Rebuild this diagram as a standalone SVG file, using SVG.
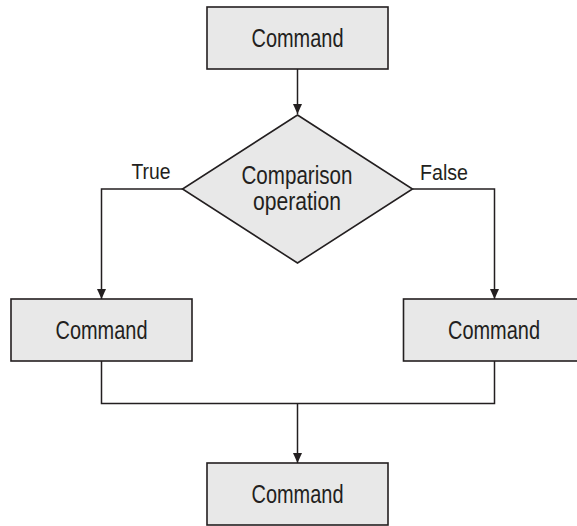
<svg xmlns="http://www.w3.org/2000/svg" width="577" height="526" viewBox="0 0 577 526">
<style>
.box{fill:#e8e8e8;stroke:#231f20;stroke-width:1.6}
.lbl{font-family:"Liberation Sans",Arial,sans-serif;font-size:25px;fill:#231f20;text-anchor:middle}
.side{font-family:"Liberation Sans",Arial,sans-serif;font-size:21.5px;fill:#231f20}
.conn{fill:none;stroke:#231f20;stroke-width:1.5}
</style>
<defs>
<marker id="arr" viewBox="0 0 10 12" refX="10" refY="6" markerWidth="10" markerHeight="12" markerUnits="userSpaceOnUse" orient="auto">
<path d="M0,1.5 L10,6 L0,10.5 z" fill="#231f20"/>
</marker>
</defs>
<rect width="577" height="526" fill="#ffffff"/>
<g id="connectors">
<path class="conn" d="M297.5,69 V114" marker-end="url(#arr)"/>
<path class="conn" d="M183,189 H101.5 V299" marker-end="url(#arr)"/>
<path class="conn" d="M412.5,189 H494.5 V299" marker-end="url(#arr)"/>
<path class="conn" d="M101.5,361 V403.5 H494.5 V361"/>
<path class="conn" d="M297.5,403.5 V463" marker-end="url(#arr)"/>
</g>
<g id="top-command">
<rect class="box" x="207" y="7" width="181" height="62"/>
<text class="lbl" x="297.5" y="46.5" textLength="92" lengthAdjust="spacingAndGlyphs">Command</text>
</g>
<g id="comparison">
<polygon class="box" points="297.5,115 412.5,189 297.5,263 182.5,189"/>
<text class="lbl" x="297" y="183.5" textLength="111" lengthAdjust="spacingAndGlyphs">Comparison</text>
<text class="lbl" x="297" y="209.5" textLength="88" lengthAdjust="spacingAndGlyphs">operation</text>
</g>
<g id="true-label">
<text class="side" x="131.5" y="178.5" textLength="39" lengthAdjust="spacingAndGlyphs">True</text>
</g>
<g id="false-label">
<text class="side" x="420" y="180" textLength="48" lengthAdjust="spacingAndGlyphs">False</text>
</g>
<g id="left-command">
<rect class="box" x="11" y="299" width="181" height="62"/>
<text class="lbl" x="101.5" y="338.5" textLength="92" lengthAdjust="spacingAndGlyphs">Command</text>
</g>
<g id="right-command">
<rect class="box" x="403.5" y="299" width="181" height="62"/>
<text class="lbl" x="494" y="338.5" textLength="92" lengthAdjust="spacingAndGlyphs">Command</text>
</g>
<g id="bottom-command">
<rect class="box" x="207" y="463" width="181" height="62"/>
<text class="lbl" x="297.5" y="502.5" textLength="92" lengthAdjust="spacingAndGlyphs">Command</text>
</g>
</svg>
